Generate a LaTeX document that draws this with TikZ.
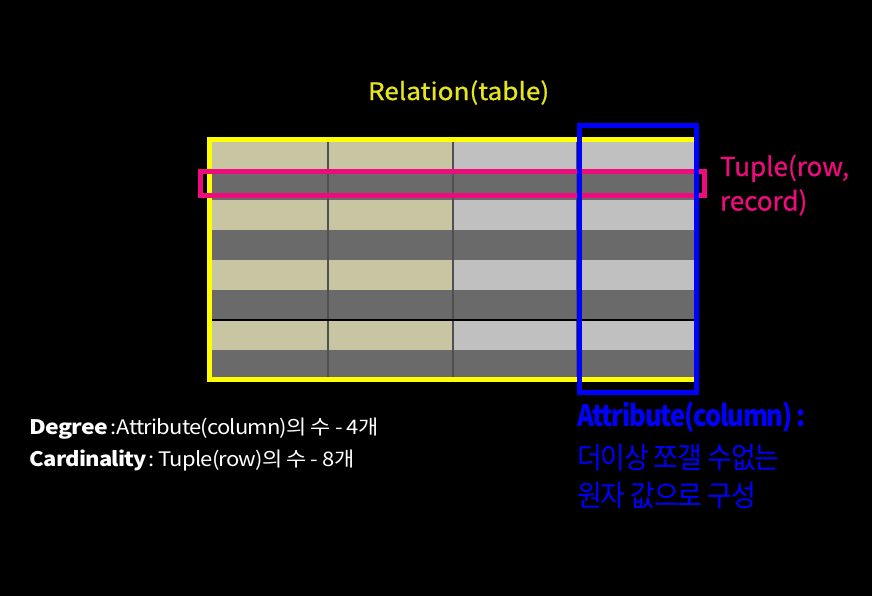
\documentclass[tikz,border=0pt]{standalone}
\usepackage{fontspec}
\setmainfont{Noto Sans CJK KR}
\newfontfamily\relfont[FakeStretch=1.09,FakeBold=0.8]{Noto Sans CJK KR}
\newfontfamily\tupfont[FakeBold=0.8]{Noto Sans CJK KR}
\newfontfamily\degfont[LetterSpace=-4,FakeStretch=1.1]{Noto Sans CJK KR}
\newfontfamily\degbold[LetterSpace=-4,FakeStretch=1.15]{Noto Sans CJK KR}
\newfontfamily\attfont[LetterSpace=-4,FakeStretch=0.87]{Noto Sans CJK KR}
\newfontfamily\attkr[LetterSpace=-4,FakeStretch=0.92]{Noto Sans CJK KR}
\definecolor{beige}{HTML}{C8C5A2}
\definecolor{lgray}{HTML}{C0C0C0}
\definecolor{dgray}{HTML}{6A6A6A}
\definecolor{sepline}{HTML}{505050}
\definecolor{ylw}{HTML}{FFFF00}
\definecolor{ylwtext}{HTML}{E6E61E}
\definecolor{pnk}{HTML}{EC0C7C}
\definecolor{blu}{HTML}{0000FF}
\begin{document}
\begin{tikzpicture}[x=0.75pt,y=-0.75pt,
  frame/.style={line width=3.75pt},
  lbl/.style={anchor=base west,inner sep=0pt,outer sep=0pt}]
\fill[black] (0,0) rectangle (872,596);
\useasboundingbox (0,0) rectangle (872,596);
% table rows
\foreach \r/\t/\b in {0/142/171,1/171/200,2/200/230,3/230/260,4/260/290,5/290/320,6/320/350,7/350/377}{
  \pgfmathparse{mod(\r,2)==0 ? 1 : 0}
  \ifnum\pgfmathresult=1
    \fill[beige] (212,\t) rectangle (453,\b);
    \fill[lgray] (453,\t) rectangle (694,\b);
  \else
    \fill[dgray] (212,\t) rectangle (694,\b);
  \fi
}
\foreach \x in {328,453,577}{\draw[sepline,line width=0.9pt] (\x,142) -- (\x,377);}
\draw[black,line width=0.9pt] (212,320) -- (694,320);
% frames
\coordinate (relA) at (209.5,139.5);
\coordinate (relB) at (696.5,379.5);
\draw[ylw,frame] (relA) rectangle (relB);
\coordinate (tupA) at (200.5,171.5);
\coordinate (tupB) at (704.5,195.5);
\draw[pnk,frame] (tupA) rectangle (tupB);
\coordinate (attA) at (579.5,125.5);
\coordinate (attB) at (696.5,392);
\draw[blu,frame] (attA) rectangle (attB);
% labels
\node[lbl,text=ylwtext,font=\relfont\fontsize{18}{21}\selectfont] (reltxt) at (368,100) {Relation(table)};
\node[lbl,text=pnk,font=\tupfont\fontsize{19.5}{22}\selectfont] (tuptxt) at (720,176) {Tuple(row,};
\node[lbl,text=pnk,font=\tupfont\fontsize{19.5}{22}\selectfont] (tuptxt2) at (720,210.5) {record)};
\node[lbl,text=white,font=\degfont\fontsize{15}{18}\selectfont] (deg) at (30,434.5) {{\degbold\bfseries Degree}\hspace{1.5pt}:\hspace{0.5pt}Attribute(column)의 수 - 4개};
\node[lbl,text=white,font=\degfont\fontsize{15}{18}\selectfont] (card) at (30,466.5) {\textbf{Cardinality}\hspace{2pt}:\hspace{3pt}Tuple(row)의 수 - 8개};
\node[lbl,text=blu,font=\attfont\fontsize{22}{26}\selectfont\bfseries] (atttxt) at (577,426) {Attribute(column)\hspace{3pt}:};
\node[lbl,text=blu,font=\attkr\fontsize{22}{26}\selectfont] (att2) at (577,468) {더이상 쪼갤 수없는};
\node[lbl,text=blu,font=\attkr\fontsize{22}{26}\selectfont] (att3) at (577,506) {원자 값으로 구성};
\end{tikzpicture}
\end{document}
